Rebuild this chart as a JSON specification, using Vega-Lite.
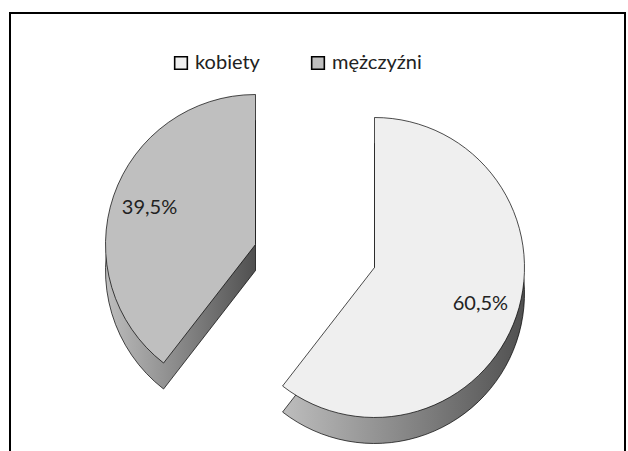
{
  "$schema": "https://vega.github.io/schema/vega-lite/v6.json",
  "width": 628,
  "height": 451,
  "autosize": {"type": "fit", "contains": "padding"},
  "padding": {"left": 9, "top": 12, "right": 2, "bottom": -8},
  "background": "white",
  "config": {
    "view": {"stroke": null},
    "font": "Lato",
    "locale": {
      "number": {"decimal": ",", "thousands": " ", "grouping": [3], "currency": ["", " zł"]}
    }
  },
  "data": {
    "values": [
      {"sex": "kobiety", "share": 0.605},
      {"sex": "mężczyźni", "share": 0.395}
    ]
  },
  "layer": [
    {
      "description": "chart frame",
      "mark": {"type": "rect", "fill": "transparent", "stroke": "black", "strokeWidth": 2},
      "encoding": {}
    },
    {
      "description": "side walls of the slices, drawn under the tops",
      "mark": {
        "type": "arc",
        "radius": 150,
        "stroke": "black",
        "strokeWidth": 0.7,
        "fill": {
          "gradient": "linear",
          "x1": 0, "y1": 0, "x2": 1, "y2": 0,
          "stops": [
            {"offset": 0, "color": "#bdbdbd"},
            {"offset": 0.6, "color": "#7d7d7d"},
            {"offset": 1, "color": "#505050"}
          ]
        },
        "xOffset": {"expr": "datum.sex === 'kobiety' ? 57 : -62"},
        "yOffset": {"expr": "datum.sex === 'kobiety' ? 58 : 35"}
      },
      "encoding": {
        "theta": {"field": "share", "type": "quantitative", "stack": true},
        "order": {"field": "sex", "sort": "ascending"}
      }
    },
    {
      "description": "top faces of the slices",
      "mark": {
        "type": "arc",
        "radius": 150,
        "stroke": "black",
        "strokeWidth": 0.7,
        "xOffset": {"expr": "datum.sex === 'kobiety' ? 57 : -62"},
        "yOffset": {"expr": "datum.sex === 'kobiety' ? 32 : 9"}
      },
      "encoding": {
        "theta": {"field": "share", "type": "quantitative", "stack": true},
        "order": {"field": "sex", "sort": "ascending"},
        "color": {
          "field": "sex",
          "type": "nominal",
          "scale": {"domain": ["kobiety", "mężczyźni"], "range": ["#efefef", "#bfbfbf"]},
          "legend": {
            "title": null,
            "orient": "none",
            "direction": "horizontal",
            "legendX": 161,
            "legendY": 40,
            "padding": 0,
            "symbolType": "square",
            "symbolSize": 160,
            "symbolStrokeColor": "black",
            "symbolStrokeWidth": 1.6,
            "labelFont": "Lato",
            "labelFontSize": 20,
            "labelColor": "#222222",
            "labelOffset": 4,
            "columnPadding": 48
          }
        }
      }
    },
    {
      "description": "percentage labels on the tops",
      "mark": {
        "type": "text",
        "radius": 112,
        "font": "Lato",
        "fontSize": 20,
        "color": "#222222",
        "xOffset": {"expr": "datum.sex === 'kobiety' ? 57 : -62"},
        "yOffset": {"expr": "datum.sex === 'kobiety' ? 32 : 9"}
      },
      "encoding": {
        "theta": {"field": "share", "type": "quantitative", "stack": true},
        "order": {"field": "sex", "sort": "ascending"},
        "text": {"field": "share", "type": "quantitative", "format": ".1%"}
      }
    }
  ]
}
